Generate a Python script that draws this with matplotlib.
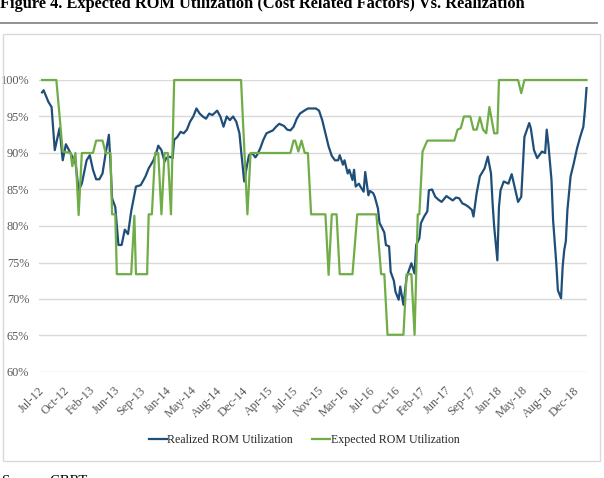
import matplotlib
matplotlib.use("Agg")
import matplotlib.pyplot as plt
from matplotlib.lines import Line2D
from matplotlib.patches import Rectangle
from matplotlib.ticker import PercentFormatter

# weekly index (0 = Jul-12); values in %
realized_weeks = [0, 1, 4, 6, 8, 11, 13, 15, 19, 21, 23, 25, 28, 30, 32, 34, 36, 38, 40, 42,
                  43, 44, 46, 48, 50, 52, 54, 56, 59, 62, 65, 67, 70, 72, 73, 75, 77, 78, 80, 82,
                  83, 85, 87, 89, 91, 93, 95, 97, 99, 101, 103, 105, 107, 110, 112, 114, 116, 118, 120, 122,
                  124, 125, 127, 129, 130, 132, 134, 135, 137, 139, 141, 143, 145, 147, 149, 152, 154, 156, 158, 160,
                  162, 164, 167, 172, 174, 176, 178, 180, 182, 184, 186, 187, 189, 190, 192, 193, 195, 196, 197, 199,
                  200, 202, 203, 205, 206, 208, 209, 211, 212, 213, 215, 216, 218, 219, 221, 222, 224, 225, 227, 229,
                  232, 234, 235, 237, 238, 240, 242, 243, 245, 247, 249, 251, 254, 256, 258, 260, 262, 264, 266, 268,
                  270, 271, 273, 275, 278, 280, 282, 283, 284, 286, 287, 288, 290, 293, 294, 295, 297, 299, 301, 303,
                  306, 307, 309, 311, 314, 316, 317, 318, 320, 321, 323, 324, 326, 327, 328, 329, 330, 332, 334, 336,
                  338, 340, 341, 342]
realized = [98.3, 98.6, 97.0, 96.3, 90.4, 93.4, 89.0, 91.2, 89.5, 88.7, 84.9, 85.8, 89.0, 89.7, 87.7, 86.4, 86.4, 87.2, 90.0, 92.5,
            88.6, 83.8, 82.6, 77.4, 77.4, 79.5, 78.9, 82.0, 85.4, 85.6, 86.8, 87.9, 89.0, 90.2, 91.0, 90.4, 88.8, 89.3, 89.5, 89.3,
            91.8, 92.2, 92.9, 92.7, 93.2, 94.3, 95.0, 96.1, 95.4, 95.0, 94.7, 95.4, 95.2, 95.8, 95.0, 93.6, 95.0, 94.5, 95.0, 94.3,
            92.7, 90.4, 86.1, 88.6, 89.7, 90.0, 89.4, 89.7, 90.6, 91.8, 92.7, 92.9, 93.1, 93.6, 94.0, 93.7, 93.2, 93.1, 93.6, 94.7,
            95.4, 95.7, 96.1, 96.1, 95.8, 94.5, 92.7, 90.9, 89.6, 89.0, 89.0, 89.7, 88.4, 89.0, 87.2, 87.7, 86.3, 87.7, 85.4, 85.8,
            85.4, 84.7, 87.4, 84.2, 84.8, 84.5, 84.0, 82.4, 80.4, 80.0, 79.1, 77.4, 77.2, 73.7, 72.5, 71.0, 69.9, 71.7, 69.2, 73.0,
            74.9, 73.5, 77.4, 78.3, 80.4, 81.3, 82.0, 84.9, 85.0, 84.0, 83.6, 83.3, 84.1, 83.8, 83.5, 83.9, 83.8, 83.1, 82.9, 82.6,
            82.2, 81.3, 84.5, 86.8, 87.9, 89.5, 87.2, 83.1, 79.9, 75.3, 82.6, 84.9, 86.1, 85.8, 86.5, 87.1, 85.2, 83.3, 84.0, 92.2,
            94.1, 93.4, 90.4, 89.3, 90.2, 90.0, 93.2, 91.3, 86.3, 80.8, 74.9, 71.2, 70.1, 74.4, 76.7, 77.9, 82.2, 86.8, 88.6, 90.6,
            92.2, 93.6, 95.9, 98.9]

expected_weeks = [0, 9, 13, 18, 19, 21, 23, 25, 32, 34, 38, 40, 43, 44, 46, 47, 56, 58, 59, 66,
                  67, 69, 71, 73, 75, 77, 79, 81, 83, 125, 129, 131, 156, 158, 159, 161, 163, 165, 167, 169,
                  178, 180, 182, 185, 187, 195, 198, 210, 213, 215, 217, 227, 229, 232, 234, 236, 237, 239, 242, 259,
                  261, 263, 265, 269, 271, 273, 275, 277, 279, 281, 284, 286, 287, 299, 301, 303, 342]
expected = [100, 100, 90.2, 90.0, 88.2, 90.0, 81.5, 90.0, 90.0, 91.7, 91.7, 90.0, 90.0, 81.6, 81.6, 73.4, 73.4, 81.4, 73.4, 73.4,
            81.6, 81.6, 90.0, 90.0, 81.6, 90.0, 90.0, 81.6, 100, 100, 81.6, 90.0, 90.0, 91.7, 91.7, 90.2, 91.7, 90.0, 90.0, 81.6,
            81.6, 73.3, 81.6, 81.6, 73.4, 73.4, 81.6, 81.6, 73.4, 73.4, 65.1, 65.1, 73.4, 73.4, 65.1, 81.6, 81.6, 90.2, 91.7, 91.7,
            93.2, 93.4, 95.0, 95.0, 93.2, 93.2, 94.9, 93.2, 92.7, 96.3, 92.7, 92.7, 100, 100, 98.2, 100, 100]

tick_labels = ["Jul-12", "Oct-12", "Feb-13", "Jun-13", "Sep-13", "Jan-14", "May-14", "Aug-14",
               "Dec-14", "Apr-15", "Jul-15", "Nov-15", "Mar-16", "Jul-16", "Oct-16", "Feb-17",
               "Jun-17", "Sep-17", "Jan-18", "May-18", "Aug-18", "Dec-18"]
tick_weeks = [16 * i for i in range(len(tick_labels))]

BLUE = "#1F4E79"
GREEN = "#70AD47"
SERIF = "Liberation Serif"

W, H = 604, 478
fig = plt.figure(figsize=(W / 100, H / 100), dpi=100)

# title (cropped at top in the reference), rule and source line
fig.text(0 / W, 1 - 8 / H, "Figure 4. Expected ROM Utilization (Cost Related Factors) Vs. Realization",
         family=SERIF, fontsize=11.8, fontweight="bold", va="baseline", ha="left")
fig.add_artist(Line2D([0, 597 / W], [1 - 23 / H] * 2, color="#7f7f7f", lw=1.2))
fig.add_artist(Rectangle((3 / W, 1 - 461 / H), 597 / W, 427 / H, fill=False,
                         edgecolor="#d9d9d9", lw=1.0))
fig.text(2 / W, 1 - 475 / H, "Source: CBRT", family=SERIF, fontsize=10.5, va="top", ha="left")

ax = fig.add_axes([39 / W, 1 - 372 / H, 548 / W, 292 / H])
ax.plot(realized_weeks, realized, color=BLUE, lw=1.6, label="Realized ROM Utilization",
        clip_on=False, zorder=3)
ax.plot(expected_weeks, expected, color=GREEN, lw=1.6, label="Expected ROM Utilization",
        clip_on=False, zorder=3)

ax.set_xlim(-1.9, 342.3)
ax.set_ylim(60, 100)
ax.set_yticks(range(60, 101, 5))
ax.yaxis.set_major_formatter(PercentFormatter(decimals=0))
ax.set_xticks(tick_weeks)
ax.set_xticklabels(tick_labels, rotation=45, ha="right", va="center", rotation_mode="anchor")
ax.grid(axis="y", color="#d9d9d9", lw=1.0)
ax.set_axisbelow(True)
for s in ax.spines.values():
    s.set_visible(False)
ax.tick_params(length=0, colors="#595959", labelsize=8.8)
ax.tick_params(axis="x", pad=12)
ax.tick_params(axis="y", pad=7)
for lab in ax.get_xticklabels() + ax.get_yticklabels():
    lab.set_family(SERIF)

leg = fig.legend(loc="center", bbox_to_anchor=(304 / W, 1 - 440 / H), ncol=2, frameon=False,
                 handlelength=1.5, handletextpad=0.05, columnspacing=1.6,
                 prop={"family": SERIF, "size": 8.6})
for t in leg.get_texts():
    t.set_color("#262626")

fig.savefig("out.png", dpi=100)
